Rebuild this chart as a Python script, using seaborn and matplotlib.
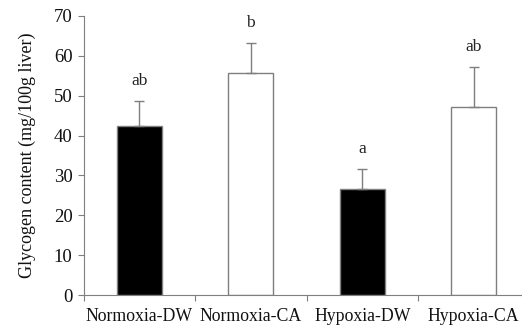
import matplotlib
matplotlib.use("Agg")
import matplotlib.pyplot as plt
import seaborn as sns
import numpy as np
import pandas as pd

# values
groups = ["Normoxia-DW", "Normoxia-CA", "Hypoxia-DW", "Hypoxia-CA"]
means = [42.3, 55.8, 26.5, 47.1]
sems = [6.4, 7.5, 5.1, 10.2]
letters = ["ab", "b", "a", "ab"]
fills = ["black", "white", "black", "white"]

sns.set_theme(style="white")
plt.rcParams["font.family"] = ["Liberation Serif", "DejaVu Serif"]

df = pd.DataFrame({"group": groups, "glycogen": means})

fig = plt.figure(figsize=(5.22, 3.26), dpi=100)
ax = fig.add_axes([0.16, 0.095, 0.8544, 0.856])

sns.barplot(data=df, x="group", y="glycogen", hue="group", palette=fills,
            width=0.4, edgecolor="#7f7f7f", linewidth=1.0, legend=False, ax=ax)

x = np.arange(len(groups))
ax.errorbar(x, means, yerr=[np.zeros(len(sems)), sems], fmt="none",
            ecolor="#7f7f7f", elinewidth=1.0, capsize=3.5, capthick=1.0)

for xi, m, s, lab in zip(x, means, sems, letters):
    ax.text(xi, m + s + 3.0, lab, ha="center", va="bottom", fontsize=12.5, color="#222222")

ax.set_ylim(0, 70)
ax.set_xlim(-0.5, 3.5)
ax.set_yticks(range(0, 71, 10))
ax.set_xticks(x)
ax.set_xticks([-0.5, 0.5, 1.5, 2.5], minor=True)
ax.tick_params(axis="x", which="major", length=0, labelsize=12.8, pad=9, colors="#111111")
ax.tick_params(axis="x", which="minor", length=4, width=0.8, color="#7f7f7f", bottom=True)
ax.tick_params(axis="y", length=4, width=0.8, color="#7f7f7f", labelsize=13.5,
               labelcolor="#111111", left=True, pad=4)
ax.set_xlabel("")
ax.set_ylabel("Glycogen content (mg/100g liver)", fontsize=13, color="#111111", labelpad=13)

for side in ["top", "right"]:
    ax.spines[side].set_visible(False)
for side in ["left", "bottom"]:
    ax.spines[side].set_color("#7f7f7f")
    ax.spines[side].set_linewidth(0.8)

fig.savefig("out.png", dpi=100)
